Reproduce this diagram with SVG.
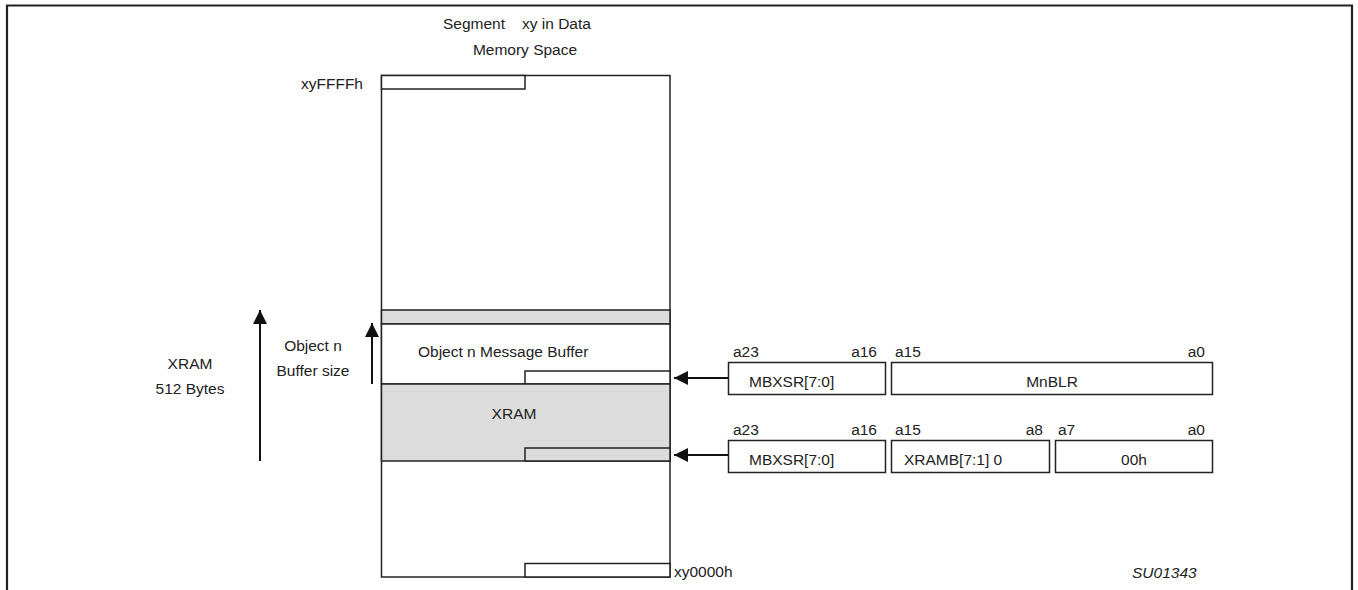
<svg xmlns="http://www.w3.org/2000/svg" width="1358" height="590" viewBox="0 0 1358 590">
<defs>
<style>
text{font-family:"Liberation Sans",Arial,sans-serif;font-size:15.5px;fill:#222}
.ln{stroke:#222;stroke-width:1.5;fill:none}
.box{stroke:#222;stroke-width:1.5;fill:#fff}
.gray{stroke:#222;stroke-width:1.5;fill:#dcdcdc}
.mid{text-anchor:middle}
.end{text-anchor:end}
</style>
<marker id="ah" markerWidth="14" markerHeight="14" refX="14" refY="7" orient="auto" markerUnits="userSpaceOnUse">
<path d="M0,0 L14,7 L0,14 Z" fill="#111"/>
</marker>
</defs>
<rect width="1358" height="590" fill="#fff"/>
<path d="M7,600 V5.5 H1352 V600" stroke="#222" stroke-width="2.2" fill="none"/>

<g id="title">
<text x="443" y="29">Segment</text>
<text x="522" y="29">xy in Data</text>
<text x="525" y="55" class="mid">Memory Space</text>
</g>

<g id="memory">
<rect x="381.5" y="75.5" width="288.5" height="501.5" class="box"/>
<rect x="381.5" y="75.5" width="143.5" height="13.5" class="box"/>
<rect x="381.5" y="310" width="288.5" height="14" class="gray"/>
<rect x="381.5" y="324" width="288.5" height="60" class="box"/>
<rect x="525" y="371" width="145" height="13" class="box"/>
<rect x="381.5" y="384" width="288.5" height="77" class="gray"/>
<rect x="525" y="448" width="145" height="13" class="gray"/>
<rect x="525" y="563.5" width="145" height="13.5" class="box"/>
<text x="418" y="357">Object n Message Buffer</text>
<text x="514" y="419" class="mid">XRAM</text>
<text x="363" y="89" class="end">xyFFFFh</text>
<text x="674" y="577">xy0000h</text>
</g>

<g id="xram-size">
<text x="190" y="369" class="mid">XRAM</text>
<text x="190" y="394" class="mid">512 Bytes</text>
</g>
<g id="buffer-size">
<text x="313" y="351" class="mid">Object n</text>
<text x="313" y="376" class="mid">Buffer size</text>
</g>

<g id="reg1">
<rect x="728.5" y="362.5" width="157" height="32" class="box"/>
<rect x="891.5" y="362.5" width="321" height="32" class="box"/>
<text x="749" y="387">MBXSR[7:0]</text>
<text x="1052" y="387" class="mid">MnBLR</text>
<text x="733" y="357">a23</text>
<text x="877" y="357" class="end">a16</text>
<text x="895" y="357">a15</text>
<text x="1205" y="357" class="end">a0</text>
</g>

<g id="reg2">
<rect x="728.5" y="440.5" width="157" height="32" class="box"/>
<rect x="891.5" y="440.5" width="158" height="32" class="box"/>
<rect x="1055.5" y="440.5" width="157" height="32" class="box"/>
<text x="749" y="465">MBXSR[7:0]</text>
<text x="904" y="465">XRAMB[7:1] 0</text>
<text x="1134" y="465" class="mid">00h</text>
<text x="733" y="435">a23</text>
<text x="877" y="435" class="end">a16</text>
<text x="895" y="435">a15</text>
<text x="1043" y="435" class="end">a8</text>
<text x="1058" y="435">a7</text>
<text x="1205" y="435" class="end">a0</text>
</g>

<g id="connectors">
<line x1="260" y1="461" x2="260" y2="310" stroke="#111" stroke-width="2" marker-end="url(#ah)"/>
<line x1="372" y1="384" x2="372" y2="323" stroke="#111" stroke-width="2" marker-end="url(#ah)"/>
<line x1="728" y1="378" x2="674" y2="378" stroke="#111" stroke-width="1.8" marker-end="url(#ah)"/>
<line x1="728" y1="455" x2="674" y2="455" stroke="#111" stroke-width="1.8" marker-end="url(#ah)"/>
</g>

<text x="1132" y="578" style="font-style:italic">SU01343</text>
</svg>
